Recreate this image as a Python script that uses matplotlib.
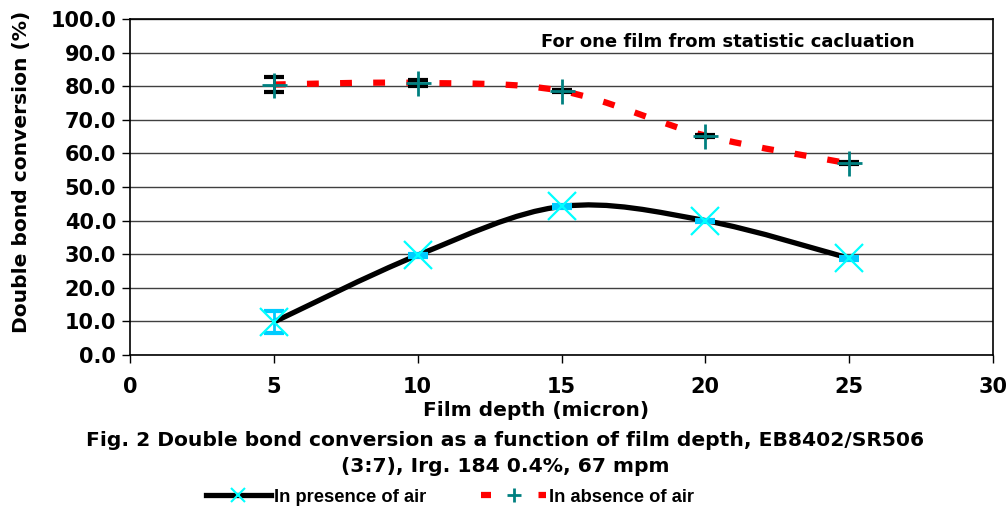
import numpy as np
import matplotlib
matplotlib.use("Agg")
import matplotlib.pyplot as plt
from matplotlib.path import Path
from matplotlib.patches import PathPatch
from matplotlib.lines import Line2D

depth = [5, 10, 15, 20, 25]
presence = [9.8, 29.7, 44.2, 40.0, 28.8]
presence_err = [3.2, 0.4, 0.4, 0.3, 0.4]
absence = [80.5, 81.0, 78.6, 65.3, 57.0]
absence_err = [2.2, 0.8, 0.4, 0.3, 0.3]
yticks = [0, 10, 20, 30, 40, 50, 60, 70, 80, 90, 100]
xticks = [0, 5, 10, 15, 20, 25, 30]

plt.rcParams['font.family'] = ['DejaVu Sans']
plt.rcParams['font.weight'] = 'bold'
plt.rcParams['axes.labelweight'] = 'bold'

leg_prop = {'family': 'Liberation Sans', 'weight': 'bold', 'size': 13.2}

fig = plt.figure(figsize=(10.08, 5.14), dpi=100)
ax = fig.add_axes([130/1008, 1-355/514, (993-130)/1008, (355-19)/514])


def smooth_path(x, y):
    x = np.asarray(x, float); y = np.asarray(y, float)
    n = len(x)
    verts = [(x[0], y[0])]
    codes = [Path.MOVETO]
    for i in range(n-1):
        p0 = np.array([x[max(i-1, 0)], y[max(i-1, 0)]])
        p1 = np.array([x[i], y[i]])
        p2 = np.array([x[i+1], y[i+1]])
        p3 = np.array([x[min(i+2, n-1)], y[min(i+2, n-1)]])
        c1 = p1 + (p2 - p0) / 6.0
        c2 = p2 - (p3 - p1) / 6.0
        verts += [tuple(c1), tuple(c2), tuple(p2)]
        codes += [Path.CURVE4] * 3
    return Path(verts, codes)


ax.set_xlim(0, 30)
ax.set_ylim(0, 100)
ax.set_yticks(yticks)
ax.set_yticklabels([f"{v:.1f}" for v in yticks])
ax.set_xticks(xticks)
ax.set_xticklabels([str(v) for v in xticks])
ax.grid(axis='y', color='#404040', linewidth=1.0)
ax.set_axisbelow(True)
for s in ax.spines.values():
    s.set_linewidth(1.2)
    s.set_color('black')
ax.tick_params(axis='both', direction='out', length=6, width=1, labelsize=15, pad=4)
ax.tick_params(axis='x', pad=10)

# absence (red dashed smooth)
p2 = PathPatch(smooth_path(depth, absence), facecolor='none', edgecolor='#FF0000',
               linewidth=4.5, linestyle=(0, (1.9, 3.4)), capstyle='butt', zorder=3)
ax.add_patch(p2)
ax.errorbar(depth, absence, yerr=absence_err, fmt='none', ecolor='black',
            elinewidth=2, capsize=7, capthick=3, zorder=4)
ax.plot(depth, absence, linestyle='none', marker='+', markersize=18,
        markeredgewidth=2, color='#008080', zorder=5)

# presence (black smooth)
p1 = PathPatch(smooth_path(depth, presence), facecolor='none', edgecolor='black',
               linewidth=3.8, zorder=3)
ax.add_patch(p1)
ax.errorbar(depth, presence, yerr=presence_err, fmt='none', ecolor='#00CCFF',
            elinewidth=2, capsize=7, capthick=3, zorder=4)
ax.plot(depth, presence, linestyle='none', marker='x', markersize=20,
        markeredgewidth=1.6, color='#00FFFF', zorder=5)

fig.text(22/1008, 1-172/514, 'Double bond conversion (%)', rotation=90,
         ha='center', va='center', fontsize=14.6, fontweight='bold')
ax.text((915-130)/863, 0.932, 'For one film from statistic cacluation', transform=ax.transAxes,
        ha='right', va='center', fontsize=13)

fig.text(536/1008, 1-411/514, 'Film depth (micron)', ha='center', va='center', fontsize=14.5)
fig.text(505/1008, 1-440/514, 'Fig. 2 Double bond conversion as a function of film depth, EB8402/SR506',
         ha='center', va='center', fontsize=14.6)
fig.text(505/1008, 1-467/514, '(3:7), Irg. 184 0.4%, 67 mpm',
         ha='center', va='center', fontsize=14.6)

fsz_px = leg_prop['size'] * 100 / 72
h1 = Line2D([], [], color='black', linewidth=3.8, marker='x', markersize=10,
            markeredgecolor='#00FFFF', markeredgewidth=1.5)
h2 = Line2D([], [], color='#FF0000', linewidth=4.5, linestyle=(0, (1.6, 7.6)),
            marker='+', markersize=10, markeredgecolor='#008080', markeredgewidth=2)
leg = fig.legend([h1, h2], ['In presence of air', 'In absence of air'], loc='center',
                 bbox_to_anchor=(450/1008, 1-497/514), ncol=2, frameon=False,
                 prop=leg_prop,
                 handlelength=65/fsz_px, handletextpad=3/fsz_px, columnspacing=55/fsz_px,
                 borderaxespad=0, borderpad=0)

fig.savefig('out.png', dpi=100)
